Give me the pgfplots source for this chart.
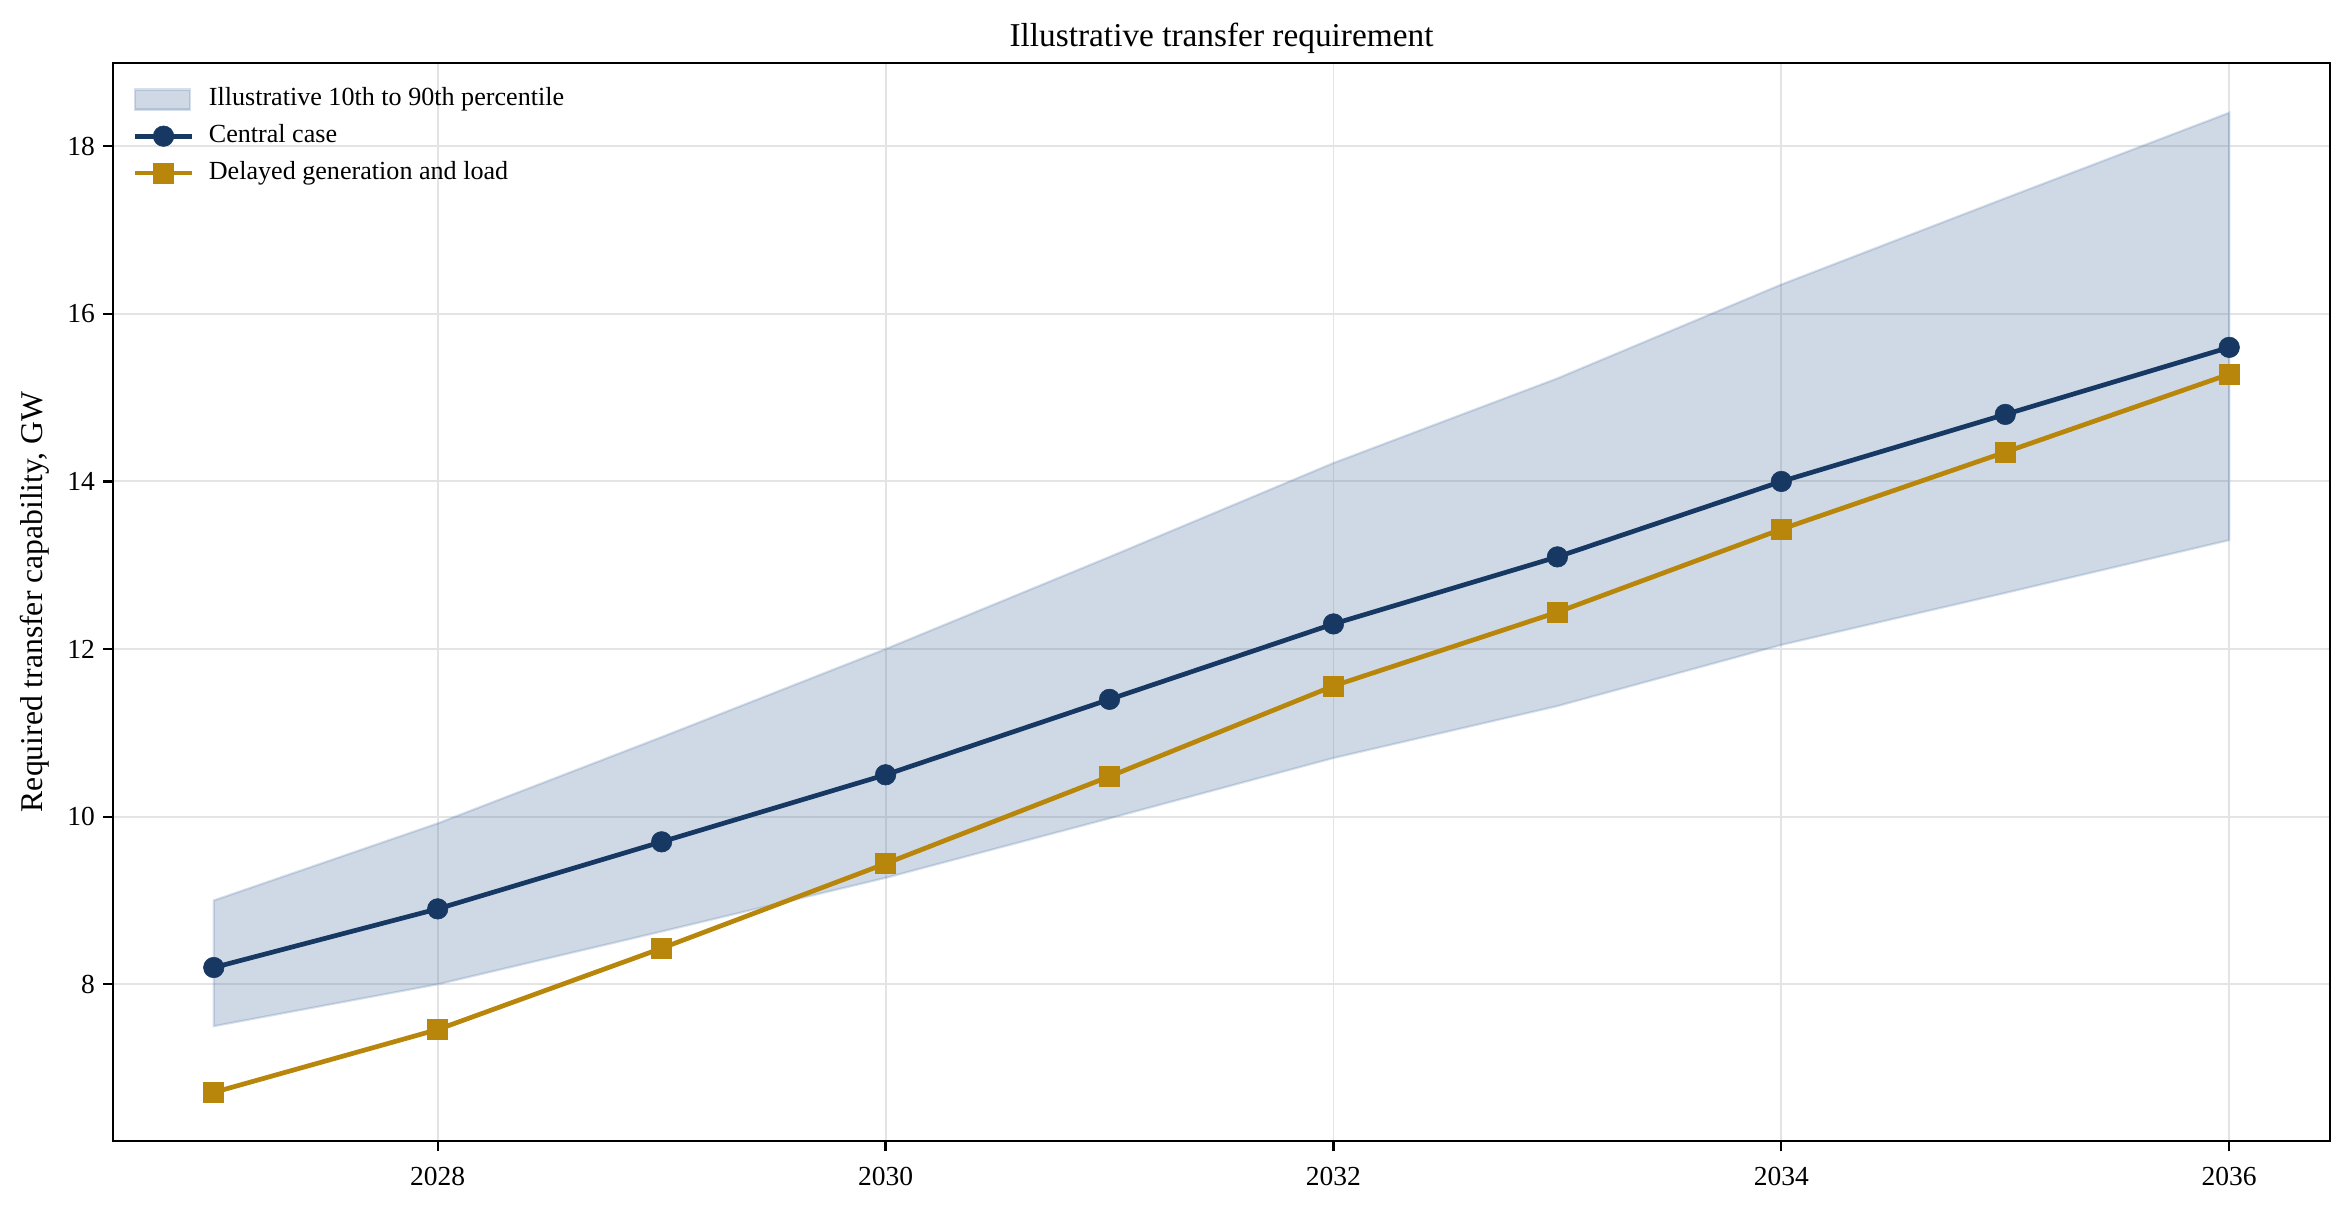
\documentclass[border=0pt]{standalone}
\usepackage{fontspec}
\setmainfont{Liberation Serif}
\usepackage{pgfplots}
\pgfplotsset{compat=1.18}
\usepgfplotslibrary{fillbetween}
\usetikzlibrary{calc}
\definecolor{navy}{RGB}{22,56,99}
\definecolor{gold}{RGB}{184,134,11}
\definecolor{bandc}{RGB}{70,110,160}
\definecolor{gridc}{RGB}{228,228,228}
\pgfplotsset{
  linelegend/.style={legend image code/.code={\draw[mark repeat=2,mark phase=2,##1] plot coordinates {(0pt,0pt) (10.15pt,0pt) (20.3pt,0pt)};}},
  bandlegend/.style={legend image code/.code={\draw[##1] (0pt,-3.6pt) rectangle (19.8pt,3.6pt);}},
}
\begin{document}
\begin{tikzpicture}
\begin{axis}[
  width=798.12pt, height=387.97pt, scale only axis,
  xmin=2026.55, xmax=2036.45, ymin=6.13, ymax=18.99,
  xtick={2028,2030,2032,2034,2036}, ytick={8,10,12,14,16,18},
  xtick pos=bottom, ytick pos=left,
  tick align=outside, major tick length=3.6pt,
  tick style={black, line width=0.8pt},
  axis line style={black, line width=0.8pt},
  grid=major, major grid style={gridc, line width=0.7pt},
  /pgf/number format/assume math mode=true,
  /pgf/number format/1000 sep={},
  tick label style={font=\fontsize{9.9}{12}\selectfont, text=black},
  xticklabel style={anchor=north, inner sep=0pt, yshift=-5.8pt},
  yticklabel style={inner sep=0pt},
  yticklabel shift=2.7pt,
  title={Illustrative transfer requirement},
  title style={font=\fontsize{12}{14}\selectfont, at={(0.5,1)}, anchor=base, inner sep=0pt},
  ylabel={Required transfer capability, GW},
  ylabel style={font=\fontsize{11.4}{13}\selectfont, at={($(axis description cs:0,0.5)+(-25.3pt,0)$)}, anchor=base, inner sep=0pt},
  legend style={at={(axis description cs:0,1)}, anchor=north west, xshift=4pt, yshift=-6.1pt,
    draw=none, fill=none, font=\fontsize{9.4}{11}\selectfont,
    row sep=3.7pt, column sep=5.3pt,
    nodes={inner sep=0pt, text height=7pt, text depth=2.5pt}},
  legend cell align=left,
  linelegend,
]
\addplot[name path=up, draw=none, forget plot] coordinates {
  (2027,9.0) (2028,9.92) (2029,10.95) (2030,12.0) (2031,13.1)
  (2032,14.22) (2033,15.23) (2034,16.35) (2035,17.38) (2036,18.4)};
\addplot[name path=lo, draw=none, forget plot] coordinates {
  (2027,7.5) (2028,8.0) (2029,8.63) (2030,9.27) (2031,9.98)
  (2032,10.7) (2033,11.32) (2034,12.05) (2035,12.67) (2036,13.3)};
\addplot[fill=bandc, fill opacity=0.26, draw=bandc, draw opacity=0.22, line width=0.8pt, bandlegend]
  fill between[of=up and lo];
\addlegendentry{Illustrative 10th to 90th percentile}
\addplot[navy, line width=1.7pt, mark=*, mark size=3.7pt, mark options={solid, fill=navy, draw=navy, line width=0.2pt}] coordinates {
  (2027,8.2) (2028,8.9) (2029,9.7) (2030,10.5) (2031,11.4)
  (2032,12.3) (2033,13.1) (2034,14.0) (2035,14.8) (2036,15.6)};
\addlegendentry{Central case}
\addplot[gold, line width=1.7pt, mark=square*, mark size=3.6pt, mark options={solid, fill=gold, draw=gold, line width=0.2pt}] coordinates {
  (2027,6.71) (2028,7.46) (2029,8.43) (2030,9.44) (2031,10.48)
  (2032,11.56) (2033,12.44) (2034,13.43) (2035,14.35) (2036,15.28)};
\addlegendentry{Delayed generation and load}
\end{axis}
\pgfresetboundingbox
\path[use as bounding box] ([shift={(-40.68pt,-24.48pt)}]current axis.south west) rectangle ([shift={(7.56pt,22.79pt)}]current axis.north east);
\end{tikzpicture}
\end{document}
